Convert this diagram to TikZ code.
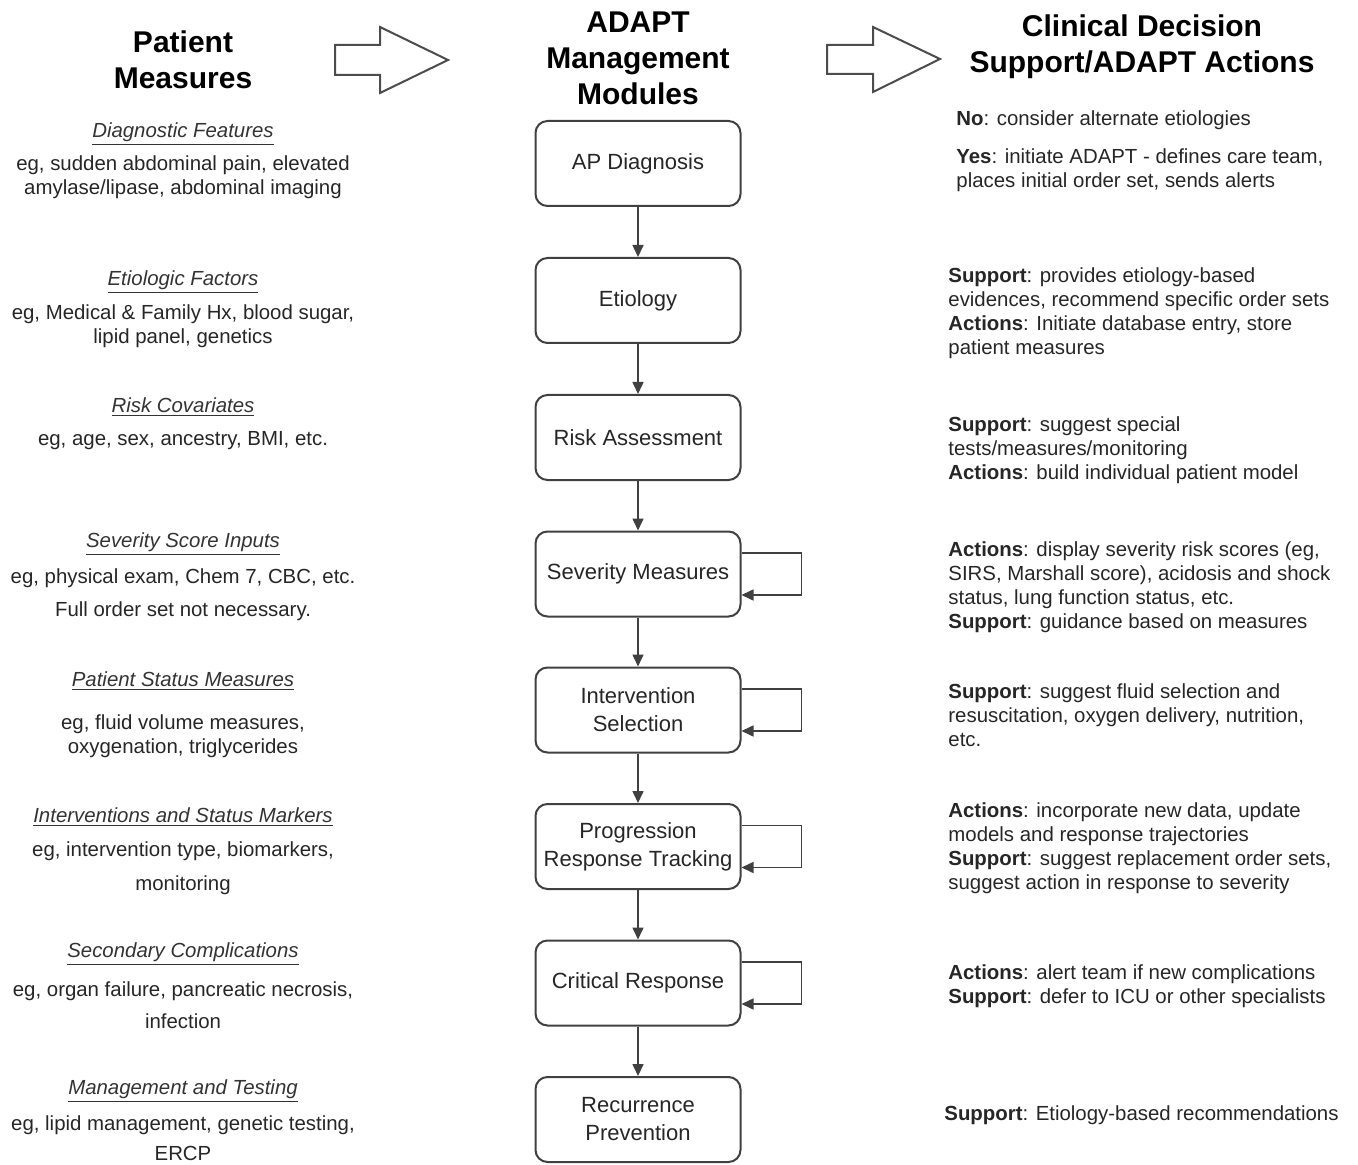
\documentclass[tikz,border=0pt]{standalone}
\usepackage{fontspec}
\setmainfont{Liberation Sans}
\usetikzlibrary{arrows.meta}
\begin{document}
\begin{tikzpicture}[x=0.5pt,y=-0.5pt,
  module/.style={draw=black!75, line width=1pt, rounded corners=6pt,
    minimum width=102.5pt, minimum height=42.5pt, align=center,
    font=\fontsize{11}{14}\selectfont, text=black!85, inner sep=2pt},
  flow/.style={draw=black!75, line width=0.8pt, -{Triangle[length=6pt,width=5.5pt]}},
  head/.style={font=\fontsize{15}{18}\selectfont\bfseries, align=center, inner sep=0pt},
  ptitle/.style={font=\fontsize{10.2}{12}\selectfont\itshape, text=black!80, inner sep=0pt, yshift=-1.5pt},
  pbody/.style={font=\fontsize{10.2}{12}\selectfont, align=center, text=black!85, inner sep=0pt, yshift=-1.5pt},
  rbody/.style={font=\fontsize{10.2}{12}\selectfont, align=left, anchor=west, text=black!85, inner sep=0pt, yshift=-1.5pt},
  blockarrow/.style={draw=black!70, line width=1pt, line join=miter}
]
\useasboundingbox (0,0) rectangle (1358,1165);

% headings
\node[head] (hpm) at (183,60) {Patient\\Measures};
\node[head] (ham) at (638,58) {ADAPT\\Management\\Modules};
\node[head] (hcd) at (1142,47) {Clinical Decision\\Support/ADAPT Actions};

% hollow block arrows
\draw[blockarrow] (335,45) -- (380,45) -- (380,27) -- (448,60) -- (380,93) -- (380,75) -- (335,75) -- cycle;
\draw[blockarrow] (827,45) -- (873,45) -- (873,27) -- (940,59) -- (873,92) -- (873,74) -- (827,74) -- cycle;

% modules
\node[module] (m1) at (638,163.5) {AP Diagnosis};
\node[module] (m2) at (638,300.5) {Etiology};
\node[module] (m3) at (638,437.5) {Risk Assessment};
\node[module] (m4) at (638,574) {Severity Measures};
\node[module] (m5) at (638,710) {Intervention\\Selection};
\node[module] (m6) at (638,846.5) {Progression\\Response Tracking};
\node[module] (m7) at (638,983) {Critical Response};
\node[module] (m8) at (638,1119.5) {Recurrence\\Prevention};

\foreach \a/\b in {m1/m2,m2/m3,m3/m4,m4/m5,m5/m6,m6/m7,m7/m8}
  \draw[flow] (\a) -- (\b);

\foreach \m in {m4,m5,m6,m7}
  \draw[flow] ([yshift=10.5pt]\m.east) -- ++(60,0) |- ([yshift=-10.5pt]\m.east);

% patient measures
\node[ptitle] (p1t) at (183,131) {\underline{Diagnostic Features}};
\node[pbody] (p1b) at (183,174) {eg, sudden abdominal pain, elevated\\amylase/lipase, abdominal imaging};
\node[ptitle] (p2t) at (183,279) {\underline{Etiologic Factors}};
\node[pbody] (p2b) at (183,323) {eg, Medical \& Family Hx, blood sugar,\\lipid panel, genetics};
\node[ptitle] (p3t) at (183,404) {\underline{Risk Covariates}};
\node[pbody] (p3b) at (183,438) {eg, age, sex, ancestry, BMI, etc.};
\node[ptitle] (p4t) at (183,541) {\underline{Severity Score Inputs}};
\node[pbody] (p4b) at (183,591.5) {eg, physical exam, Chem 7, CBC, etc.\\[4.5pt]Full order set not necessary.};
\node[ptitle] (p5t) at (183,678) {\underline{Patient Status Measures}};
\node[pbody] (p5b) at (183,733) {eg, fluid volume measures,\\oxygenation, triglycerides};
\node[ptitle] (p6t) at (183,814) {\underline{Interventions and Status Markers}};
\node[pbody] (p6b) at (183,865) {eg, intervention type, biomarkers,\\[5pt]monitoring};
\node[ptitle] (p7t) at (183,951) {\underline{Secondary Complications}};
\node[pbody] (p7b) at (183,1002) {eg, organ failure, pancreatic necrosis,\\[4pt]infection};
\node[ptitle] (p8t) at (183,1088) {\underline{Management and Testing}};
\node[pbody] (p8b) at (183,1135) {eg, lipid management, genetic testing,\\[3pt]ERCP};

% decision support / actions
\node[rbody] (r1) at (956,117) {\textbf{No}: consider alternate etiologies};
\node[rbody] (r2) at (956,167) {\textbf{Yes}: initiate ADAPT - defines care team,\\places initial order set, sends alerts};
\node[rbody] (r3) at (948,310) {\textbf{Support}: provides etiology-based\\evidences, recommend specific order sets\\\textbf{Actions}: Initiate database entry, store\\patient measures};
\node[rbody] (r4) at (948,447) {\textbf{Support}: suggest special\\tests/measures/monitoring\\\textbf{Actions}: build individual patient model};
\node[rbody] (r5) at (948,584) {\textbf{Actions}: display severity risk scores (eg,\\SIRS, Marshall score), acidosis and shock\\status, lung function status, etc.\\\textbf{Support}: guidance based on measures};
\node[rbody] (r6) at (948,712) {\textbf{Support}: suggest fluid selection and\\resuscitation, oxygen delivery, nutrition,\\etc.};
\node[rbody] (r7) at (948,845) {\textbf{Actions}: incorporate new data, update\\models and response trajectories\\\textbf{Support}: suggest replacement order sets,\\suggest action in response to severity};
\node[rbody] (r8) at (948,983) {\textbf{Actions}: alert team if new complications\\\textbf{Support}: defer to ICU or other specialists};
\node[rbody] (r9) at (944,1112) {\textbf{Support}: Etiology-based recommendations};
\end{tikzpicture}
\end{document}
